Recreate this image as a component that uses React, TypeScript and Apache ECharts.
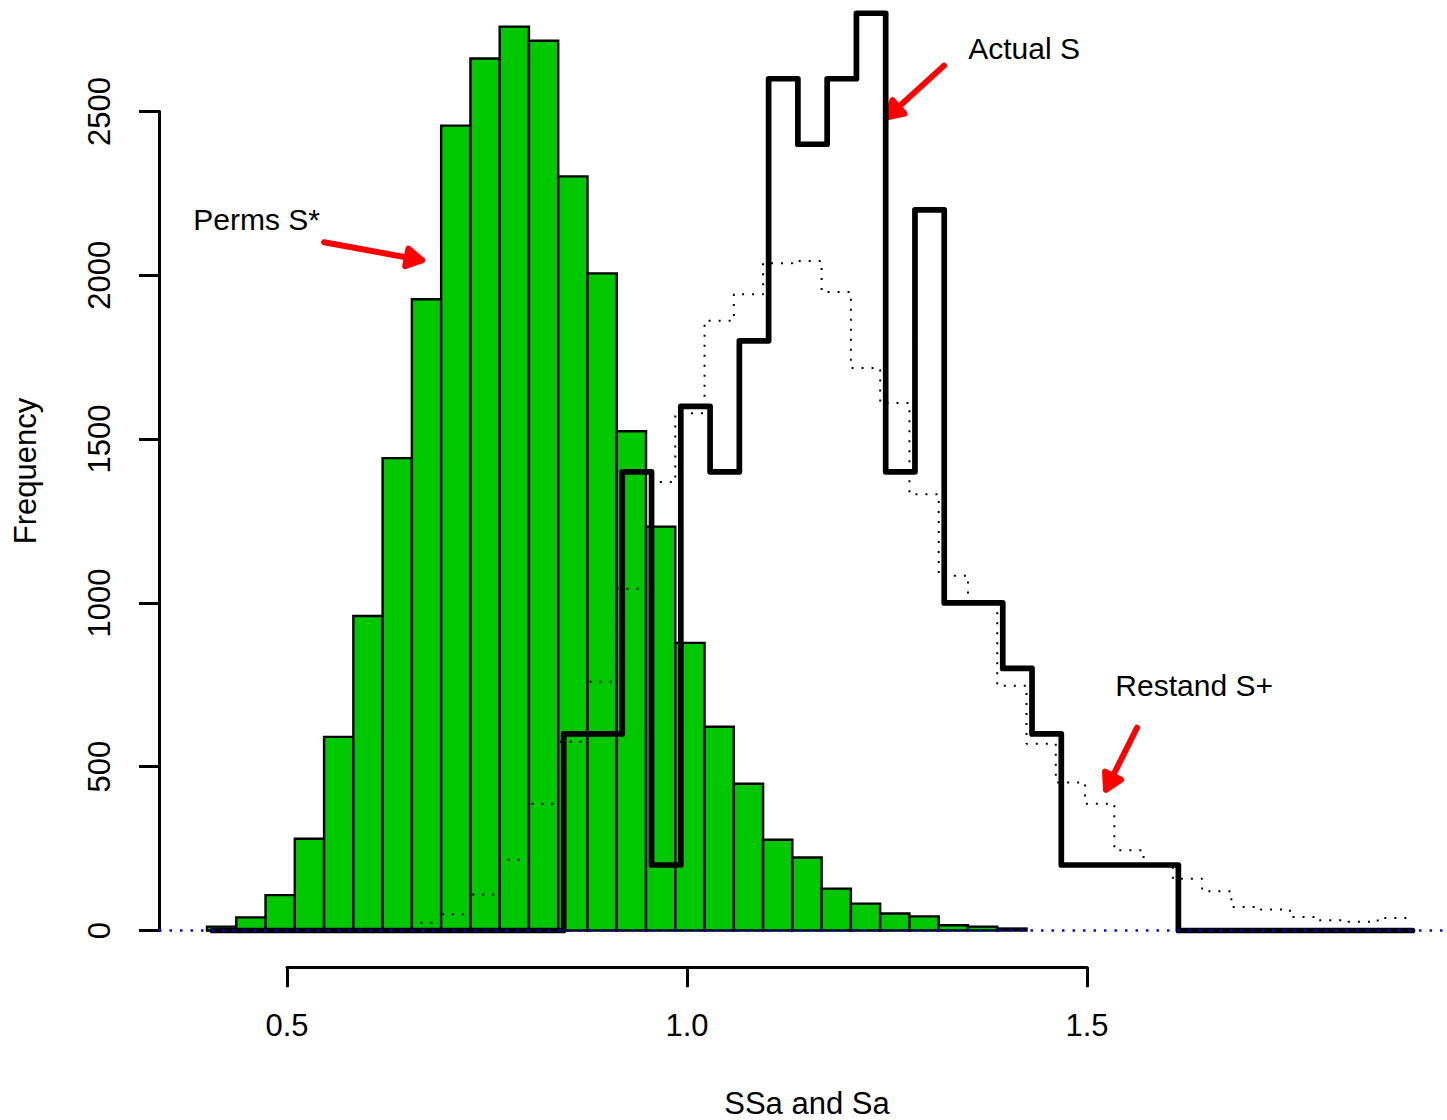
import React, { useEffect, useRef } from "react";
import * as echarts from "echarts";

// ---- data ----
const BREAK_START = 0.4;
const BIN_WIDTH = 1.5 / 41;
const ACTUAL_START = 0.4069;

const permsCounts = [12, 40, 108, 280, 591, 960, 1442, 1927, 2457, 2662, 2759, 2716, 2302, 2006, 1524, 1233, 878, 622, 448, 277, 223, 128, 82, 52, 43, 16, 12, 6];
const actualCounts = [0, 0, 0, 0, 0, 0, 0, 0, 0, 0, 0, 0, 600, 600, 1400, 200, 1600, 1400, 1800, 2600, 2400, 2600, 2800, 1400, 2200, 1000, 1000, 800, 600, 200, 200, 200, 200, 0, 0, 0, 0, 0, 0, 0, 0];
const restandCounts = [0, 0, 0, 0, 0, 2, 4, 24, 50, 110, 216, 387, 576, 759, 1043, 1369, 1579, 1861, 1942, 2037, 2044, 1949, 1717, 1610, 1332, 1083, 1005, 747, 570, 452, 387, 245, 200, 158, 120, 72, 64, 41, 31, 27, 38];

const xTickValues = [0.5, 1.0, 1.5];
const yTickValues = [0, 500, 1000, 1500, 2000, 2500];
const xTitle = "SSa and Sa";
const yTitle = "Frequency";

const annotationLabels = ["Perms S*", "Actual S", "Restand S+"];
const annotationPos = [[0.462, 2171], [1.4213, 2692], [1.6339, 747]];
const arrowFrom = [[0.5464, 2101], [1.3213, 2640], [1.5625, 619]];
const arrowTo = [[0.6689, 2046], [1.25, 2482], [1.5238, 430]];

const X_RANGE = [0.34, 1.96];
const Y_RANGE = [-112, 2840.4];

const FONT = "'Liberation Sans', Arial, sans-serif";

function stepPoints(start: number, counts: number[]) {
  const pts: number[][] = [];
  counts.forEach((c, i) => {
    pts.push([start + i * BIN_WIDTH, c]);
    pts.push([start + (i + 1) * BIN_WIDTH, c]);
  });
  return pts;
}

export default function App() {
  const ref = useRef<HTMLDivElement>(null);
  useEffect(() => {
    if (!ref.current) return;
    const chart = echarts.init(ref.current, undefined, { renderer: "svg" });
    const barData = permsCounts.map((c, i) => [BREAK_START + i * BIN_WIDTH, BREAK_START + (i + 1) * BIN_WIDTH, c]);
    const arrowData = arrowFrom.map((f, i) => [f[0], f[1], arrowTo[i][0], arrowTo[i][1]]);
    const textData = annotationPos.map((p, i) => [p[0], p[1], i]);

    const option: any = {
      animation: false,
      backgroundColor: "#ffffff",
      grid: [
        { left: 159, top: 0, width: 1296, height: 967.2, outerBoundsMode: "none", containLabel: false },
        { left: 287, top: 900, width: 800, height: 67.2, outerBoundsMode: "none", containLabel: false },
        { left: 159, top: 111.5, width: 200, height: 819, outerBoundsMode: "none", containLabel: false },
        { left: 159, top: 0, width: 10, height: 942, outerBoundsMode: "none", containLabel: false },
      ],
      xAxis: [
        {
          type: "value", gridIndex: 0, min: X_RANGE[0], max: X_RANGE[1],
          axisLine: { show: false }, axisTick: { show: false }, axisLabel: { show: false }, splitLine: { show: false },
          name: xTitle, nameLocation: "middle", nameGap: 121,
          nameTextStyle: { fontFamily: FONT, fontSize: 31, color: "#000" },
        },
        {
          type: "value", gridIndex: 1, min: xTickValues[0], max: xTickValues[xTickValues.length - 1],
          interval: xTickValues[1] - xTickValues[0], position: "bottom",
          axisLine: { show: true, lineStyle: { color: "#000", width: 3 } },
          axisTick: { show: true, length: 20, lineStyle: { color: "#000", width: 3 } },
          axisLabel: { show: true, margin: 43, fontFamily: FONT, fontSize: 31, color: "#000", formatter: (v: number) => v.toFixed(1) },
          splitLine: { show: false },
        },
        { type: "value", gridIndex: 2, show: false },
        { type: "value", gridIndex: 3, show: false },
      ],
      yAxis: [
        {
          type: "value", gridIndex: 0, min: Y_RANGE[0], max: Y_RANGE[1],
          axisLine: { show: false }, axisTick: { show: false }, axisLabel: { show: false }, splitLine: { show: false },
        },
        { type: "value", gridIndex: 1, show: false, min: 0, max: 1 },
        {
          type: "value", gridIndex: 2, min: yTickValues[0], max: yTickValues[yTickValues.length - 1],
          interval: yTickValues[1] - yTickValues[0], position: "left",
          axisLine: { show: true, lineStyle: { color: "#000", width: 3 } },
          axisTick: { show: true, length: 20, lineStyle: { color: "#000", width: 3 } },
          axisLabel: { show: true, rotate: 90, margin: 44, fontFamily: FONT, fontSize: 31, color: "#000", formatter: (v: number) => String(v) },
          splitLine: { show: false },
        },
        {
          type: "value", gridIndex: 3, min: 0, max: 1,
          axisLine: { show: false }, axisTick: { show: false }, axisLabel: { show: false }, splitLine: { show: false },
          name: yTitle, nameLocation: "middle", nameRotate: 90, nameGap: 118,
          nameTextStyle: { fontFamily: FONT, fontSize: 31, color: "#000" },
        },
      ],
      series: [
        {
          type: "custom", name: "Perms S*", xAxisIndex: 0, yAxisIndex: 0,
          data: barData, encode: { x: [0, 1], y: 2 },
          renderItem: (params: any, api: any) => {
            const p0 = api.coord([api.value(0), api.value(2)]);
            const p1 = api.coord([api.value(1), 0]);
            return {
              type: "rect",
              shape: { x: p0[0], y: p0[1], width: p1[0] - p0[0], height: p1[1] - p0[1] },
              style: { fill: "#00c800", stroke: "#000", lineWidth: 2.4 },
            };
          },
        },
        {
          type: "line", name: "Actual S", xAxisIndex: 0, yAxisIndex: 0,
          data: stepPoints(ACTUAL_START, actualCounts), symbol: "none",
          lineStyle: { color: "#000", width: 5.7, cap: "round", join: "round" },
        },
        {
          type: "line", name: "Restand S+", xAxisIndex: 0, yAxisIndex: 0,
          data: stepPoints(BREAK_START, restandCounts), symbol: "none",
          lineStyle: { color: "#000", width: 2, type: [2, 8] },
        },
        {
          type: "line", name: "zero", xAxisIndex: 0, yAxisIndex: 0,
          data: [[X_RANGE[0], 0], [X_RANGE[1], 0]], symbol: "none",
          lineStyle: { color: "#0000ff", width: 2.5, type: [2.5, 8] },
        },
        {
          type: "custom", name: "arrows", xAxisIndex: 0, yAxisIndex: 0,
          data: arrowData, encode: { x: [0, 2], y: [1, 3] }, clip: false,
          renderItem: (params: any, api: any) => {
            const a = api.coord([api.value(0), api.value(1)]);
            const b = api.coord([api.value(2), api.value(3)]);
            const ang = Math.atan2(b[1] - a[1], b[0] - a[0]);
            const L = 18;
            const h1 = [b[0] - L * Math.cos(ang - Math.PI / 6), b[1] - L * Math.sin(ang - Math.PI / 6)];
            const h2 = [b[0] - L * Math.cos(ang + Math.PI / 6), b[1] - L * Math.sin(ang + Math.PI / 6)];
            const st = { stroke: "#ff0000", lineWidth: 6, lineCap: "round", lineJoin: "round", fill: null };
            return {
              type: "group",
              children: [
                { type: "line", shape: { x1: a[0], y1: a[1], x2: b[0], y2: b[1] }, style: st },
                { type: "polygon", shape: { points: [h1, b, h2] }, style: { ...st, fill: "#ff0000" } },
              ],
            };
          },
        },
        {
          type: "custom", name: "labels", xAxisIndex: 0, yAxisIndex: 0,
          data: textData, encode: { x: 0, y: 1 }, clip: false,
          renderItem: (params: any, api: any) => {
            const p = api.coord([api.value(0), api.value(1)]);
            return {
              type: "text", x: p[0], y: p[1],
              style: {
                text: annotationLabels[api.value(2)],
                fontFamily: FONT, fontSize: 30, fill: "#000",
                align: "center", verticalAlign: "middle",
                textAlign: "center", textVerticalAlign: "middle",
              },
            };
          },
        },
      ],
    };
    chart.setOption(option);
    return () => chart.dispose();
  }, []);
  return <div ref={ref} style={{ position: "absolute", left: 0, top: 0, width: 1447, height: 1120 }} />;
}
